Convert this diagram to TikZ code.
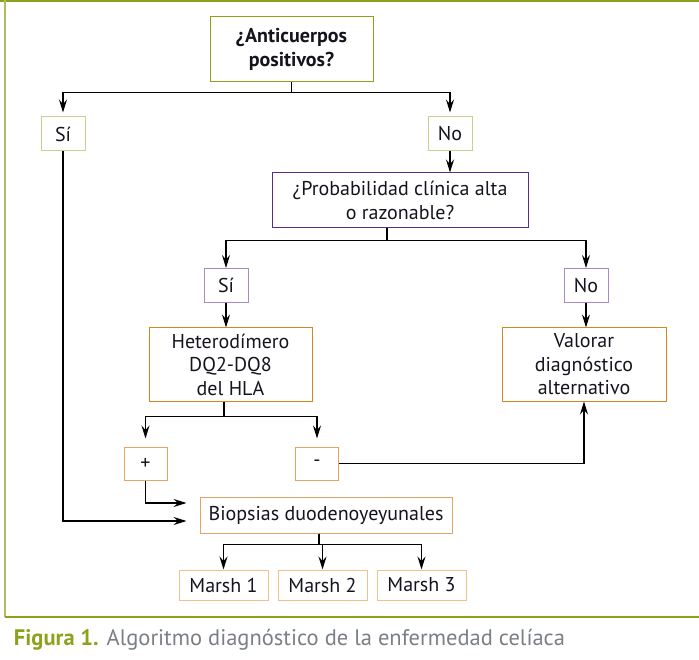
\documentclass[tikz,border=0pt]{standalone}
\usepackage{fontspec}
\setmainfont{PT Sans}
\usetikzlibrary{arrows.meta}
\tikzset{>={Stealth[length=13pt,width=8pt,inset=4.5pt]}}
\definecolor{verde}{HTML}{8CA21A}
\definecolor{verdeclaro}{HTML}{C8D08F}
\definecolor{morado}{HTML}{5C2D82}
\definecolor{moradoclaro}{HTML}{A68BC4}
\definecolor{naranja}{HTML}{D9851C}
\definecolor{naranjamedio}{HTML}{E3A466}
\definecolor{naranjaclaro}{HTML}{F2C088}
\definecolor{gris}{HTML}{7A7F85}
\definecolor{tinta}{HTML}{14141E}
\tikzset{
  caja/.style={draw,line width=1pt,align=center,inner sep=0pt,text=tinta},
  chica/.style={caja,minimum width=44,minimum height=34},
  marsh/.style={caja,draw=naranjaclaro,minimum width=89,minimum height=30}
}

\begin{document}
\begin{tikzpicture}[x=1pt,y=-1pt,line width=1.3pt,font=\fontsize{20}{23.5}\selectfont]
      \useasboundingbox (0,0) rectangle (699,660);

      % marco
      \draw[verde,line width=2pt] (0,1) -- (699,1);
      \draw[verde!70,line width=1.5pt] (5,0) -- (5,617);
      \draw[verde,line width=1.5pt] (5,617) -- (699,617);

      \node[caja,draw=verde,minimum width=163,minimum height=65,font=\fontsize{20}{23.5}\selectfont\bfseries](ac) at (291.5, 49.5) {¿Anticuerpos\\positivos?};
      \node[chica,draw=verdeclaro](si1) at (63, 134) {Sí};
      \node[chica,draw=verdeclaro](no1) at (450, 134) {No};

      \node[caja,draw=morado,minimum width=256,minimum height=55](prob) at (400, 200.5) {¿Probabilidad clínica alta\\o razonable?};
      \node[chica,draw=moradoclaro](si2) at (226, 285.5) {Sí};
      \node[chica,draw=moradoclaro](no2) at (586, 285.5) {No};

      \node[caja,draw=naranja,minimum width=163,minimum height=73](het) at (230.5, 364.5) {Heterodímero\\DQ2-DQ8\\del HLA};
      \node[caja,draw=naranja,minimum width=164,minimum height=73](val) at (584, 364.5) {Valorar\\diagnóstico\\alternativo};

      \node[chica,draw=naranjamedio,minimum width=43,minimum height=33](mas) at (145.5, 463.5) {+};
      \node[chica,draw=naranjamedio,minimum width=43,minimum height=33](menos) at (317, 463.5) {-};

      \node[caja,draw=naranjamedio,minimum width=252,minimum height=36](biop) at (326, 515) {Biopsias duodenoyeyunales};

      \node[marsh](m1) at (223.5, 585) {Marsh 1};
      \node[marsh](m2) at (322.5, 585) {Marsh 2};
      \node[marsh](m3) at (421.5, 585) {Marsh 3};

      \node[anchor=west,text=gris,font=\fontsize{22.5}{26}\selectfont](pie) at (10, 640) {\textcolor{verde}{\bfseries Figura 1.} Algoritmo diagnóstico de la enfermedad celíaca};

      \draw[->,shorten >=4pt] (ac.south) -- ++(0, 10) -| (si1);
      \draw[->,shorten >=4pt] (ac.south) -- ++(0, 10) -| (no1);
      \draw[->] (no1.south) -- (no1.south |- prob.north);

      \coordinate (pb) at ([xshift=-13pt]prob.south);
      \draw[->] (pb) -- ++(0, 12) -| (si2);
      \draw[->] (pb) -- ++(0, 12) -| (no2);
      \draw[->] (si2.south) -- (si2.south |- het.north);
      \draw[->] (no2.south) -- (no2.south |- val.north);

      \coordinate (hb) at ([xshift=-6.5pt]het.south);
      \draw[->,shorten >=8pt] (hb) -- ++(0, 15) -| (mas);
      \draw[->,shorten >=8pt] (hb) -- ++(0, 15) -| (menos);
      \draw[->] (menos.east) -| (val.south);

      \draw[->,shorten >=13pt] (mas.south) |- ([yshift=12pt]biop.west);
      \draw[->,shorten >=13pt] (si1.south) |- ([yshift=-6pt]biop.west);

      \coordinate (bb) at ([xshift=-7pt]biop.south);
      \draw[->] (bb) -- ++(0, 11) -| (m1);
      \draw[->] (bb) -- ++(0, 11) -| (m2);
      \draw[->] (bb) -- ++(0, 11) -| (m3);
    \end{tikzpicture}
\end{document}
